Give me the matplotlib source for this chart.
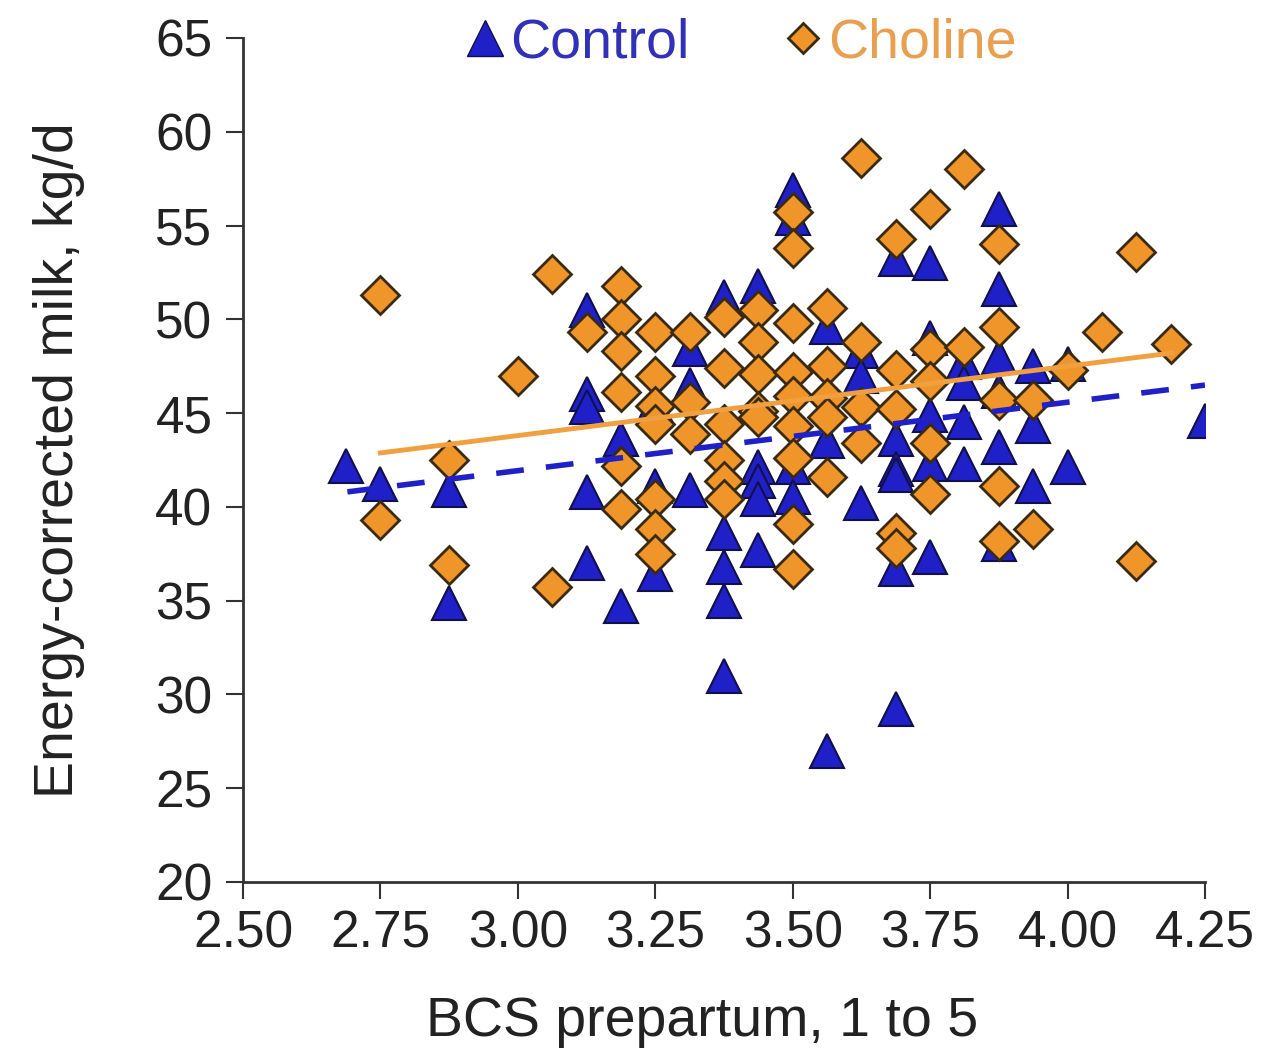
import matplotlib
matplotlib.use("Agg")
import matplotlib.pyplot as plt
import numpy as np

plt.rcParams["font.family"] = ["Liberation Sans", "DejaVu Sans"]

# BCS prepartum (x) and energy-corrected milk (y)
control_x = [2.6875, 2.75, 2.875, 2.875,
             3.125, 3.125, 3.125, 3.125, 3.125,
             3.1875, 3.1875,
             3.25, 3.25, 3.25,
             3.3125, 3.3125, 3.3125,
             3.375, 3.375, 3.375, 3.375, 3.375,
             3.4375, 3.4375, 3.4375, 3.4375, 3.4375,
             3.5, 3.5, 3.5, 3.5,
             3.5625, 3.5625, 3.5625,
             3.625, 3.625, 3.625,
             3.6875, 3.6875, 3.6875, 3.6875, 3.6875, 3.6875,
             3.75, 3.75, 3.75, 3.75, 3.75,
             3.8125, 3.8125, 3.8125, 3.8125,
             3.875, 3.875, 3.875, 3.875, 3.875, 3.875,
             3.9375, 3.9375, 3.9375,
             4.0, 4.0,
             4.25]
control_y = [42.2, 41.2, 40.9, 34.9,
             50.5, 46.0, 45.3, 40.8, 37.0,
             43.6, 34.7,
             45.5, 41.1, 36.4,
             48.4, 46.5, 40.9,
             51.2, 38.6, 36.8, 35.0, 31.0,
             51.8, 42.1, 41.4, 40.4, 37.7,
             56.9, 55.4, 42.1, 40.5,
             49.6, 43.5, 27.0,
             48.3, 47.0, 40.2,
             53.2, 43.6, 42.0, 41.7, 36.7, 29.2,
             53.0, 49.0, 44.9, 42.3, 37.3,
             47.7, 46.6, 44.5, 42.3,
             55.9, 51.6, 48.0, 46.2, 43.2, 38.0,
             47.5, 44.3, 41.1,
             47.6, 42.1,
             44.6]

choline_x = [2.75, 2.75,
             2.875, 2.875,
             3.0,
             3.0625, 3.0625,
             3.125,
             3.1875, 3.1875, 3.1875, 3.1875, 3.1875, 3.1875,
             3.25, 3.25, 3.25, 3.25, 3.25, 3.25, 3.25,
             3.3125, 3.3125, 3.3125,
             3.375, 3.375, 3.375, 3.375, 3.375, 3.375,
             3.4375, 3.4375, 3.4375, 3.4375, 3.4375,
             3.5, 3.5, 3.5, 3.5, 3.5, 3.5, 3.5, 3.5, 3.5,
             3.5625, 3.5625, 3.5625, 3.5625, 3.5625,
             3.625, 3.625, 3.625, 3.625,
             3.6875, 3.6875, 3.6875, 3.6875, 3.6875,
             3.75, 3.75, 3.75, 3.75, 3.75,
             3.8125, 3.8125,
             3.875, 3.875, 3.875, 3.875, 3.875,
             3.9375, 3.9375,
             4.0,
             4.0625,
             4.125, 4.125,
             4.1875]
choline_y = [51.3, 39.3,
             42.5, 36.9,
             47.0,
             52.4, 35.7,
             49.3,
             51.8, 50.0, 48.3, 46.1, 42.2, 39.9,
             49.3, 47.0, 45.4, 44.4, 40.4, 38.8, 37.5,
             49.3, 45.6, 43.9,
             50.1, 47.4, 44.4, 42.5, 41.4, 40.4,
             50.5, 48.8, 47.1, 45.1, 44.8,
             55.7, 53.8, 49.8, 47.2, 45.9, 44.3, 42.6, 39.1, 36.7,
             50.6, 47.5, 45.8, 44.8, 41.6,
             58.6, 48.8, 45.3, 43.4,
             54.3, 47.3, 45.2, 38.6, 37.8,
             55.9, 48.4, 46.7, 43.4, 40.7,
             58.0, 48.5,
             54.0, 49.6, 45.7, 41.1, 38.2,
             45.7, 38.8,
             47.3,
             49.3,
             53.6, 37.1,
             48.7]

# fitted regression lines (slope, intercept) and x range
control_fit = (3.65, 30.98)
control_fit_range = (2.69, 4.25)
choline_fit = (3.70, 32.70)
choline_fit_range = (2.75, 4.19)

x_ticks = [2.50, 2.75, 3.00, 3.25, 3.50, 3.75, 4.00, 4.25]
y_ticks = [20, 25, 30, 35, 40, 45, 50, 55, 60, 65]

blue = "#2020c8"
orange = "#f0952a"

fig = plt.figure(figsize=(12.76, 10.64), dpi=100)
ax = fig.add_axes([0.1904, 0.1711, 0.7539, 0.7932])

ax.plot(control_x, control_y, linestyle="none", marker="^", markersize=25,
        markerfacecolor=blue, markeredgecolor="#10104a", markeredgewidth=1.5,
        zorder=2)
ax.plot(choline_x, choline_y, linestyle="none", marker="D", markersize=19,
        markerfacecolor=orange, markeredgecolor="#3a2a10", markeredgewidth=2,
        zorder=3)

xs = np.array(control_fit_range)
ax.plot(xs, control_fit[0] * xs + control_fit[1], color=blue, lw=4,
        dashes=(5, 4), zorder=4)
xs = np.array(choline_fit_range)
ax.plot(xs, choline_fit[0] * xs + choline_fit[1], color="#f0a040", lw=3.5,
        zorder=4)

ax.set_xlim(2.5, 4.25)
ax.set_ylim(20, 65)
ax.set_xticks(x_ticks)
ax.set_xticklabels([f"{t:.2f}" for t in x_ticks])
ax.set_yticks(y_ticks)

for side in ["top", "right"]:
    ax.spines[side].set_visible(False)
for side in ["left", "bottom"]:
    ax.spines[side].set_color("#333333")
    ax.spines[side].set_linewidth(2)

ax.tick_params(axis="both", direction="out", length=12, width=1.5,
               colors="#333333", labelsize=37, labelcolor="#222222")
ax.tick_params(axis="x", pad=8)
ax.tick_params(axis="y", pad=10)

ax.set_xlabel("BCS prepartum, 1 to 5", fontsize=40, color="#222222")
ax.set_ylabel("Energy-corrected milk, kg/d", fontsize=40, color="#222222")
ax.xaxis.set_label_coords(0.477, -0.135)
ax.yaxis.set_label_coords(-0.164, 0.5)

# legend at top
ax.plot([], [], linestyle="none", marker="^", markersize=26,
        markerfacecolor=blue, markeredgecolor="#10104a", label="Control")
ax.plot([], [], linestyle="none", marker="D", markersize=15,
        markerfacecolor=orange, markeredgecolor="#3a2a10", markeredgewidth=2,
        label="Choline")
handles, labels = ax.get_legend_handles_labels()
leg = ax.legend(handles[-2:], labels[-2:], loc="upper center", ncol=2,
                bbox_to_anchor=(0.515, 1.083), frameon=False, fontsize=40,
                handletextpad=0.0, columnspacing=1.6, handlelength=0.9)
leg.get_texts()[0].set_color("#3030b8")
leg.get_texts()[1].set_color("#e8a050")

fig.savefig("out.png", dpi=100)
